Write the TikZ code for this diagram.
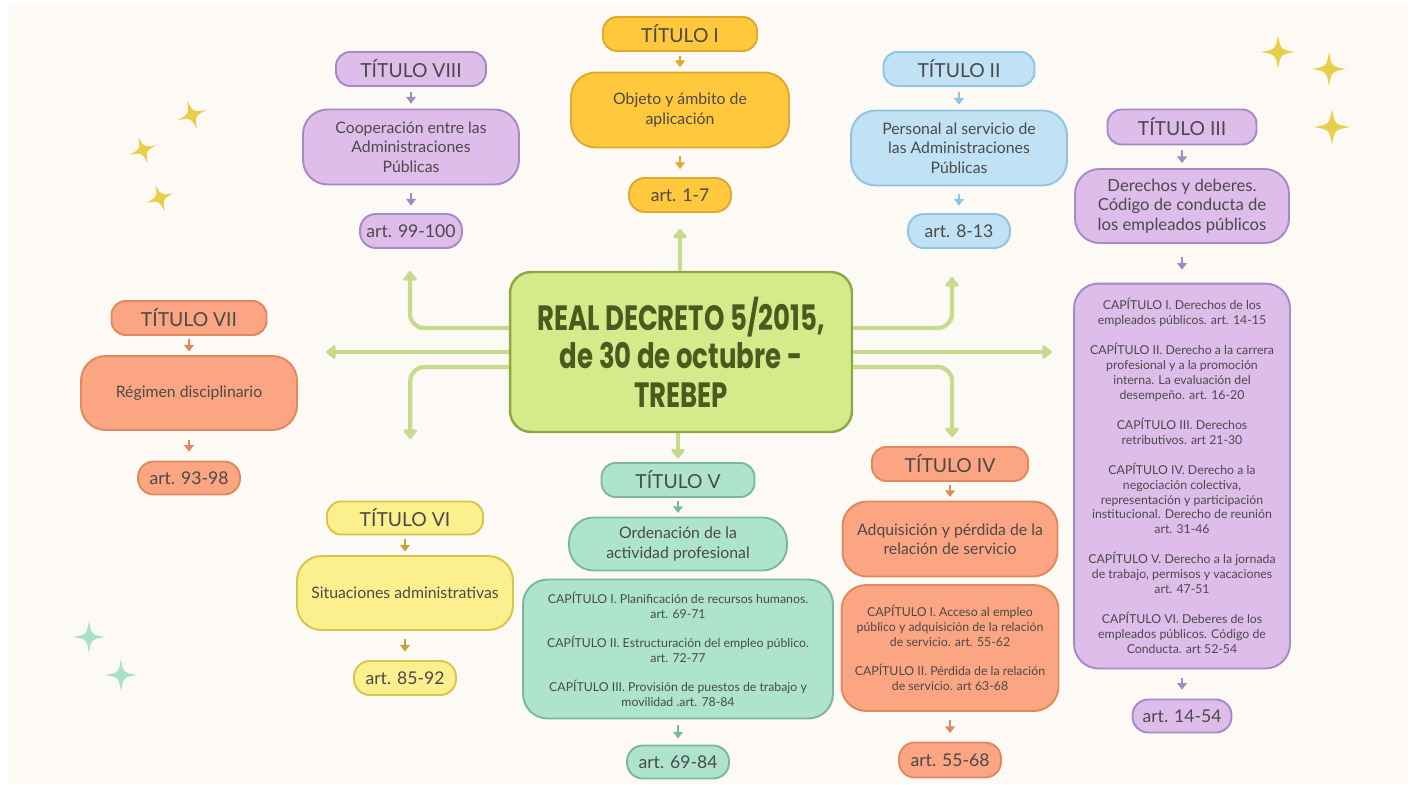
\documentclass[tikz,border=0pt]{standalone}
\usepackage{fontspec}
\setmainfont{Lato}
\newfontfamily\hubfont{Poppins}[FakeStretch=0.74]
\usetikzlibrary{arrows.meta,positioning}

\definecolor{cream}{HTML}{FDFAF6}
\definecolor{ink}{HTML}{4A4A4A}
\definecolor{goldfill}{HTML}{FFC83D}
\definecolor{goldline}{HTML}{E0A82C}
\definecolor{lilafill}{HTML}{DEBDEA}
\definecolor{lilaline}{HTML}{A48AC6}
\definecolor{bluefill}{HTML}{C0E2F4}
\definecolor{blueline}{HTML}{8FC4E3}
\definecolor{salmfill}{HTML}{FBA582}
\definecolor{salmline}{HTML}{DE8A5E}
\definecolor{lemfill}{HTML}{FCF08E}
\definecolor{lemline}{HTML}{D9C44C}
\definecolor{lemarrow}{HTML}{C2A23A}
\definecolor{mintfill}{HTML}{AEE3CD}
\definecolor{mintline}{HTML}{7DB79F}
\definecolor{hubfill}{HTML}{D5EA8B}
\definecolor{hubline}{HTML}{8AAA40}
\definecolor{hubink}{HTML}{4B5A1E}
\definecolor{linkgreen}{HTML}{C6DB8E}
\definecolor{staryel}{HTML}{E8CF4A}
\definecolor{starmint}{HTML}{A8E2CC}

\tikzset{
  box/.style 2 args={fill=#1, draw=#2, line width=1.1pt, align=center, inner sep=0pt, text=ink},
  titlebox/.style={minimum width=3.08cm, minimum height=0.68cm, rounded corners=8pt, font=\fontsize{11}{13}\selectfont},
  artbox/.style={minimum width=2.04cm, minimum height=0.68cm, rounded corners=9pt, font=\fontsize{10}{12}\selectfont},
  textbox/.style={minimum width=4.32cm, minimum height=1.5cm, rounded corners=14pt, font=\fontsize{9}{11}\selectfont},
  capbox/.style={rounded corners=14pt, font=\fontsize{7}{8.5}\selectfont},
  trunk/.style={draw=linkgreen, line width=2.4pt, rounded corners=8pt, line join=round,
    -{Triangle[round, length=6pt, width=9pt]}},
  dn/.style 2 args={draw=#1, line width=1pt, shorten <=#2, shorten >=#2,
    -{Triangle[length=3.8pt, width=5.5pt]}},
  sparkle/.pic={\fill (0,-1) .. controls (0.15,-0.15) .. (1,0) .. controls (0.15,0.15) .. (0,1)
    .. controls (-0.15,0.15) .. (-1,0) .. controls (-0.15,-0.15) .. (0,-1) -- cycle;}
}

\begin{document}
\begin{tikzpicture}[x=0.02cm, y=-0.02cm]
\useasboundingbox (0,0) rectangle (1412,784);
\fill[white] (0,0) rectangle (1412,784);
\fill[cream] (8,5) rectangle (1408,784);

% sparkles
\pic[color=staryel, scale=15, rotate=20] at (192,115) {sparkle};
\pic[color=staryel, scale=14, rotate=20] at (143,150) {sparkle};
\pic[color=staryel, scale=14, rotate=20] at (160,198) {sparkle};
\pic[color=staryel, scale=17] at (1278,52) {sparkle};
\pic[color=staryel, scale=17] at (1329,69) {sparkle};
\pic[color=staryel, scale=18] at (1332,127) {sparkle};
\pic[color=starmint, scale=16] at (89,637) {sparkle};
\pic[color=starmint, scale=16] at (121,675) {sparkle};

\node[draw=hubline, fill=hubfill, line width=1.4pt, rounded corners=12pt, minimum width=6.84cm,
  minimum height=3.2cm, align=center, text=hubink, font=\hubfont\bfseries\fontsize{20}{22}\selectfont]
  (hub) at (681,352) {REAL DECRETO 5/2015,\\de 30 de octubre -\\TREBEP};

% TITULO I
\node[box={goldfill}{goldline}, titlebox] (t1) at (680,34) {TÍTULO I};
\node[box={goldfill}{goldline}, textbox, minimum width=4.36cm] (c1) at (680,110) {Objeto y ámbito de\\aplicación};
\node[box={goldfill}{goldline}, artbox] (a1) at (680,195) {art. 1-7};
\draw[dn={goldline}{2.5pt}] (t1) -- (c1);
\draw[dn={goldline}{4.5pt}] (c1) -- (a1);

% TITULO VIII
\node[box={lilafill}{lilaline}, titlebox, minimum width=3cm] (t8) at (411,69) {TÍTULO VIII};
\node[box={lilafill}{lilaline}, textbox] (c8) at (411,147) {Cooperación entre las\\Administraciones\\Públicas};
\node[box={lilafill}{lilaline}, artbox] (a8) at (411,231) {art. 99-100};
\draw[dn={lilaline}{2.8pt}] (t8) -- (c8);
\draw[dn={lilaline}{4.2pt}] (c8) -- (a8);

% TITULO II
\node[box={bluefill}{blueline}, titlebox, minimum width=3.02cm] (t2) at (959,69) {TÍTULO II};
\node[box={bluefill}{blueline}, textbox] (c2) at (959,148) {Personal al servicio de\\las Administraciones\\Públicas};
\node[box={bluefill}{blueline}, artbox] (a2) at (959,231) {art. 8-13};
\draw[dn={blueline}{2.8pt}] (t2) -- (c2);
\draw[dn={blueline}{4.2pt}] (c2) -- (a2);

% TITULO III
\node[box={lilafill}{lilaline}, titlebox, minimum width=2.98cm, minimum height=0.7cm] (t3) at (1182,127) {TÍTULO III};
\node[box={lilafill}{lilaline}, textbox, minimum width=4.28cm, minimum height=1.48cm,
  font=\fontsize{9.5}{11}\selectfont] (c3) at (1182,206) {Derechos y deberes.\\Código de conducta de\\los empleados públicos};
\node[box={lilafill}{lilaline}, capbox, minimum width=4.32cm, minimum height=7.7cm] (k3) at (1182,476)
  {CAPÍTULO I. Derechos de los\\empleados públicos. art. 14-15\\[8.5pt]
   CAPÍTULO II. Derecho a la carrera\\profesional y a la promoción\\interna. La evaluación del\\desempeño. art. 16-20\\[8.5pt]
   CAPÍTULO III. Derechos\\retributivos. art 21-30\\[8.5pt]
   CAPÍTULO IV. Derecho a la\\negociación colectiva,\\representación y participación\\institucional. Derecho de reunión\\art. 31-46\\[8.5pt]
   CAPÍTULO V. Derecho a la jornada\\de trabajo, permisos y vacaciones\\art. 47-51\\[8.5pt]
   CAPÍTULO VI. Deberes de los\\empleados públicos. Código de\\Conducta. art 52-54};
\node[box={lilafill}{lilaline}, artbox, minimum width=1.98cm, minimum height=0.66cm] (a3) at (1182,716) {art. 14-54};
\draw[dn={lilaline}{2.8pt}] (t3) -- (c3);
\draw[dn={lilaline}{7.3pt}] (c3) -- (k3);
\draw[dn={lilaline}{5pt}] (k3) -- (a3);

% TITULO VII
\node[box={salmfill}{salmline}, titlebox, minimum width=3.1cm] (t7) at (189,318) {TÍTULO VII};
\node[box={salmfill}{salmline}, textbox, minimum height=1.48cm] (c7) at (189,393) {Régimen disciplinario};
\node[box={salmfill}{salmline}, artbox, minimum height=0.66cm] (a7) at (189,478) {art. 93-98};
\draw[dn={salmline}{2pt}] (t7) -- (c7);
\draw[dn={salmline}{5pt}] (c7) -- (a7);

% TITULO VI
\node[box={lemfill}{lemline}, titlebox, minimum width=3.12cm, minimum height=0.66cm] (t6) at (405,518) {TÍTULO VI};
\node[box={lemfill}{lemline}, textbox, minimum height=1.48cm] (c6) at (405,593) {Situaciones administrativas};
\node[box={lemfill}{lemline}, artbox] (a6) at (405,678) {art. 85-92};
\draw[dn={lemarrow}{2pt}] (t6) -- (c6);
\draw[dn={lemarrow}{4.8pt}] (c6) -- (a6);

% TITULO V
\node[box={mintfill}{mintline}, titlebox, minimum width=3.06cm] (t5) at (678,480) {TÍTULO V};
\node[box={mintfill}{mintline}, textbox, minimum width=4.36cm, minimum height=1.06cm] (c5) at (678,544) {Ordenación de la\\actividad profesional};
\node[box={mintfill}{mintline}, capbox, minimum width=6.2cm, minimum height=2.78cm] (k5) at (678,649)
  {CAPÍTULO I. Planificación de recursos humanos.\\art. 69-71\\[8pt]
   CAPÍTULO II. Estructuración del empleo público.\\art. 72-77\\[8pt]
   CAPÍTULO III. Provisión de puestos de trabajo y\\movilidad .art. 78-84};
\node[box={mintfill}{mintline}, artbox, minimum height=0.66cm] (a5) at (678,762) {art. 69-84};
\draw[dn={mintline}{2pt}] (t5) -- (c5);
\draw[dn={mintline}{3.4pt}] (k5) -- (a5);

% TITULO IV
\node[box={salmfill}{salmline}, titlebox, minimum width=3.12cm] (t4) at (950,464) {TÍTULO IV};
\node[box={salmfill}{salmline}, textbox, minimum width=4.3cm] (c4) at (950,539) {Adquisición y pérdida de la\\relación de servicio};
\node[box={salmfill}{salmline}, capbox, minimum width=4.34cm, minimum height=2.52cm] (k4) at (950,648)
  {CAPÍTULO I. Acceso al empleo\\público y adquisición de la relación\\de servicio. art. 55-62\\[8pt]
   CAPÍTULO II. Pérdida de la relación\\de servicio. art 63-68};
\node[box={salmfill}{salmline}, artbox, minimum height=0.7cm] (a4) at (950,760) {art. 55-68};
\draw[dn={salmline}{2pt}] (t4) -- (c4);
\draw[dn={salmline}{4.8pt}] (k4) -- (a4);

% branches from the centre
\draw[trunk, shorten >=9pt] (a1.south |- hub.north) -- (a1.south);
\draw[trunk, shorten >=2pt] (t5.north |- hub.south) -- (t5.north);
\draw[trunk, shorten >=12.5pt] (hub.west |- 0,328) -| ([xshift=-0.6pt]a8.south);
\draw[trunk, shorten >=16pt] (hub.west) -- (hub.west -| c7.east);
\draw[trunk, shorten >=35pt] (hub.west |- 0,367) -| ([xshift=3pt]t6.north);
\draw[trunk, shorten >=16pt] (hub.east |- 0,328) -| ([xshift=-4pt]a2.south);
\draw[trunk, shorten >=12pt] (hub.east) -- (hub.east -| k3.west);
\draw[trunk, shorten >=5pt] (hub.east |- 0,367) -| ([xshift=1.2pt]t4.north);
\end{tikzpicture}
\end{document}
